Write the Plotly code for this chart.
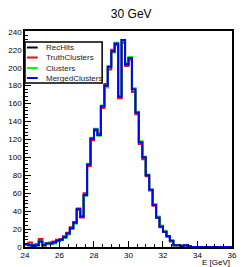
import numpy as np
import plotly.graph_objects as go

# ---------------- data ----------------
bin_low = 24.0
bin_width = 0.2
n_bins = 60
series_names = ["RecHits", "TruthClusters", "Clusters", "MergedClusters"]
series_colors = ["#000000", "#ff0000", "#00ff00", "#0000ff"]

rechits = [3, 2, 1, 2, 6, 2, 4, 4, 5, 7,
           8, 11, 15, 21, 27, 42, 34, 58, 92, 121,
           131, 125, 157, 180, 201, 218, 227, 168, 231, 204,
           211, 176, 150, 117, 100, 80, 64, 47, 33, 23,
           17, 12, 7, 2, 2, 1, 2, 1, 0, 0,
           0, 0, 0, 0, 0, 0, 0, 0, 0, 0]
truth = [3, 5, 1, 3, 9, 2, 4, 5, 6, 8,
         9, 12, 16, 22, 28, 43, 33, 60, 90, 119,
         130, 127, 155, 182, 198, 220, 225, 166, 228, 202,
         209, 173, 148, 115, 98, 79, 63, 46, 33, 22,
         17, 12, 6, 2, 2, 1, 2, 1, 0, 0,
         0, 0, 0, 0, 0, 0, 0, 0, 0, 0]
clusters = [3, 2, 1, 2, 6, 2, 4, 3, 4, 6,
            8, 10, 14, 20, 26, 41, 35, 57, 93, 122,
            132, 124, 158, 178, 202, 217, 228, 169, 230, 206,
            212, 177, 151, 118, 101, 81, 64, 48, 34, 24,
            18, 12, 7, 2, 2, 1, 2, 1, 0, 0,
            0, 0, 0, 0, 0, 0, 0, 0, 0, 0]
merged = [3, 2, 1, 2, 6, 2, 4, 4, 5, 7,
          8, 11, 15, 21, 27, 42, 34, 58, 92, 121,
          131, 125, 157, 180, 201, 218, 227, 168, 231, 204,
          211, 176, 150, 117, 100, 80, 64, 47, 33, 23,
          17, 12, 7, 2, 2, 1, 2, 1, 0, 0,
          0, 0, 0, 0, 0, 0, 0, 0, 0, 0]

x_ticks = [24, 26, 28, 30, 32, 34, 36]
y_ticks = [0, 20, 40, 60, 80, 100, 120, 140, 160, 180, 200, 220, 240]

title_text = "30 GeV"
x_title = "E [GeV]"

# ---------------- figure ----------------
edges = bin_low + bin_width * np.arange(n_bins + 1)
all_series = [rechits, truth, clusters, merged]

fig = go.Figure()
for name, col, vals in zip(series_names, series_colors, all_series):
    v = np.asarray(vals, dtype=float)
    fig.add_trace(go.Scatter(
        x=edges, y=np.append(v, v[-1]), mode="lines", line_shape="hv",
        line=dict(color=col, width=2), name=name, showlegend=False,
        hoverinfo="skip"))

FONT = "Liberation Sans, Arial, sans-serif"

fig.update_layout(
    width=243, height=267,
    margin=dict(l=25, r=6, t=31, b=20),
    paper_bgcolor="white", plot_bgcolor="white",
    font=dict(family=FONT, size=8, color="#000"),
    title=dict(text=title_text, x=0.54, xanchor="center", y=0.948,
               yanchor="middle", font=dict(family=FONT, size=12, color="#000")),
    showlegend=False,
)
fig.update_xaxes(
    range=[24, 36.001], tickvals=x_ticks, ticks="inside", ticklen=6,
    tickcolor="black", tickwidth=1, ticklabeloverflow="allow",
    minor=dict(ticks="inside", ticklen=3, dtick=0.5, tick0=24, tickcolor="black"),
    showgrid=False, zeroline=False, showline=True, linecolor="black",
    linewidth=1.5, mirror=True, tickfont=dict(size=8, color="#000"),
)
fig.update_yaxes(
    range=[0, 241], tickvals=y_ticks, ticks="inside", ticklen=6,
    tickcolor="black", tickwidth=1,
    minor=dict(ticks="inside", ticklen=3, dtick=4, tick0=0, tickcolor="black"),
    showgrid=False, zeroline=False, showline=True, linecolor="black",
    linewidth=1.5, mirror=True, tickfont=dict(size=8, color="#000"),
)

# x-axis title (right aligned, ROOT style)
fig.add_annotation(text=x_title, xref="paper", yref="paper", x=1.0, y=-0.07,
                   xanchor="right", yanchor="middle", showarrow=False,
                   font=dict(family=FONT, size=8, color="#000"))

# legend drawn in paper coordinates
W, H = 212.0, 216.0
def px(xp):
    return (xp - 25) / W
def py(yp):
    return (247 - yp) / H

fig.add_shape(type="rect", xref="paper", yref="paper",
              x0=px(25), x1=px(104), y0=py(83), y1=py(42),
              line=dict(color="black", width=1.5), fillcolor="white", layer="above")
rows = [47.5, 57.5, 68, 78]
for name, col, yr in zip(series_names, series_colors, rows):
    fig.add_shape(type="line", xref="paper", yref="paper",
                  x0=px(27), x1=px(38), y0=py(yr), y1=py(yr),
                  line=dict(color=col, width=2), layer="above")
    fig.add_annotation(text=name, xref="paper", yref="paper", x=px(44), y=py(yr),
                       xanchor="left", yanchor="middle", showarrow=False,
                       font=dict(family=FONT, size=8, color="#222"))

fig.write_html("out.html", config={"displayModeBar": False},
               post_script="document.body.style.margin='0';document.body.style.padding='0';")
